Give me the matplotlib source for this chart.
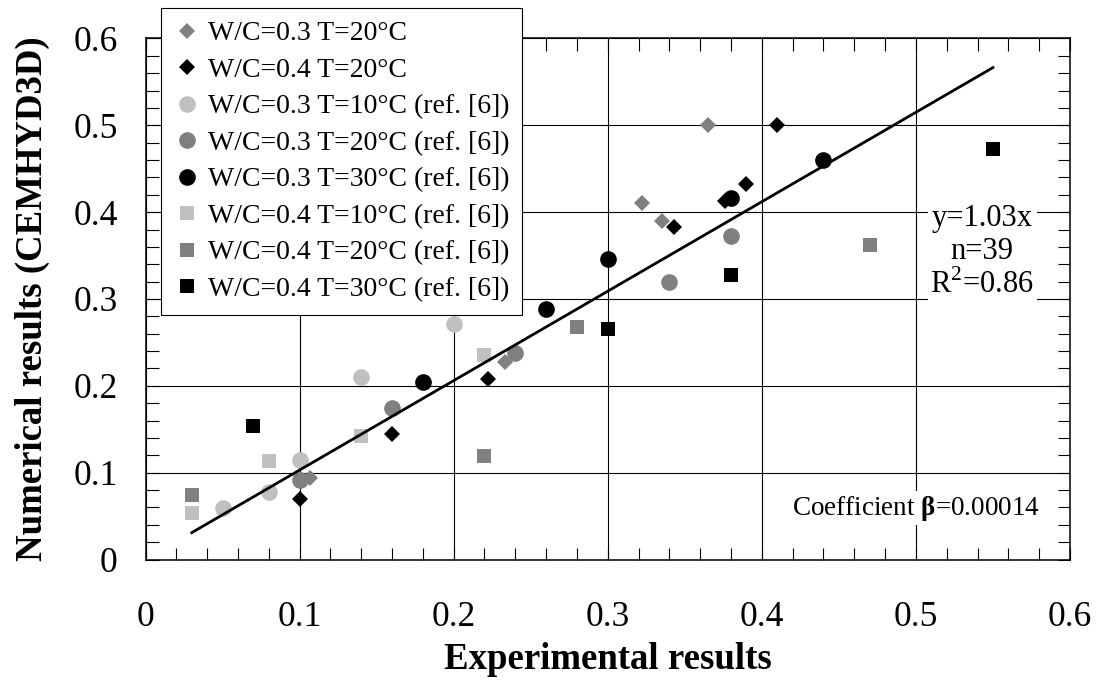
import matplotlib
matplotlib.use('Agg')
import matplotlib.pyplot as plt
import numpy as np
from matplotlib.ticker import MultipleLocator

plt.rcParams['font.family'] = ['Liberation Serif', 'DejaVu Serif']
plt.rcParams['mathtext.fontset'] = 'custom'
plt.rcParams['mathtext.rm'] = 'Liberation Serif'
plt.rcParams['mathtext.bf'] = 'Liberation Serif:bold'

# datos (experimental, numerico)
wc03_t20_x = [0.107, 0.233, 0.322, 0.335, 0.365]
wc03_t20_y = [0.094, 0.227, 0.410, 0.390, 0.500]
wc04_t20_x = [0.100, 0.160, 0.222, 0.343, 0.376, 0.390, 0.410]
wc04_t20_y = [0.070, 0.144, 0.208, 0.383, 0.413, 0.433, 0.500]
ref_03_10_x = [0.05, 0.08, 0.10, 0.14, 0.20]
ref_03_10_y = [0.059, 0.078, 0.115, 0.210, 0.271]
ref_03_20_x = [0.10, 0.16, 0.24, 0.34, 0.38]
ref_03_20_y = [0.091, 0.174, 0.238, 0.320, 0.372]
ref_03_30_x = [0.18, 0.26, 0.30, 0.38, 0.44]
ref_03_30_y = [0.204, 0.289, 0.346, 0.416, 0.460]
ref_04_10_x = [0.03, 0.08, 0.14, 0.22]
ref_04_10_y = [0.054, 0.113, 0.142, 0.235]
ref_04_20_x = [0.03, 0.22, 0.28, 0.47]
ref_04_20_y = [0.074, 0.119, 0.268, 0.362]
ref_04_30_x = [0.07, 0.30, 0.38, 0.55]
ref_04_30_y = [0.154, 0.265, 0.328, 0.473]

pendiente = 1.03
fit_x = np.array([0.03, 0.55])

ticks = [0, 0.1, 0.2, 0.3, 0.4, 0.5, 0.6]
tick_labels = ['0', '0.1', '0.2', '0.3', '0.4', '0.5', '0.6']

series = [
    (wc03_t20_x, wc03_t20_y, 'D', '#808080', 8.2, 'W/C=0.3 T=20°C'),
    (wc04_t20_x, wc04_t20_y, 'D', 'black', 8.2, 'W/C=0.4 T=20°C'),
    (ref_03_10_x, ref_03_10_y, 'o', '#c0c0c0', 12, 'W/C=0.3 T=10°C (ref. [6])'),
    (ref_03_20_x, ref_03_20_y, 'o', '#808080', 12, 'W/C=0.3 T=20°C (ref. [6])'),
    (ref_03_30_x, ref_03_30_y, 'o', 'black', 12, 'W/C=0.3 T=30°C (ref. [6])'),
    (ref_04_10_x, ref_04_10_y, 's', '#c0c0c0', 10.5, 'W/C=0.4 T=10°C (ref. [6])'),
    (ref_04_20_x, ref_04_20_y, 's', '#808080', 10.5, 'W/C=0.4 T=20°C (ref. [6])'),
    (ref_04_30_x, ref_04_30_y, 's', 'black', 10.5, 'W/C=0.4 T=30°C (ref. [6])'),
]

fig = plt.figure(figsize=(10.99, 6.8), dpi=100)
ax = fig.add_axes([0.1324, 0.1772, 0.8412, 0.7662])

for xs, ys, m, c, ms, lab in series:
    ax.plot(xs, ys, linestyle='none', marker=m, color=c, markersize=ms,
            markeredgewidth=0, label=lab, zorder=3)

ax.plot(fit_x, pendiente * fit_x, color='black', lw=2, zorder=4)

ax.set_xlim(0, 0.6)
ax.set_ylim(0, 0.6)
ax.set_xticks(ticks, tick_labels)
ax.set_yticks(ticks, tick_labels)
ax.xaxis.set_minor_locator(MultipleLocator(0.02))
ax.yaxis.set_minor_locator(MultipleLocator(0.02))
ax.grid(True, which='major', color='black', lw=0.8, zorder=1)
ax.set_axisbelow(True)
ax.tick_params(which='both', direction='in', top=True, right=True, width=0.8)
ax.tick_params(which='major', length=9, labelsize=25.5)
ax.tick_params(which='minor', length=9)
ax.tick_params(axis='x', which='major', pad=30)
ax.tick_params(axis='y', which='major', pad=20)
for s in ax.spines.values():
    s.set_linewidth(1.1)

ax.set_xlabel('Experimental results', fontsize=26.5, fontweight='bold')
ax.set_ylabel('Numerical results (CEMHYD3D)', fontsize=26.5, fontweight='bold')
ax.xaxis.set_label_coords(0.5, -0.158)
ax.yaxis.set_label_coords(-0.1033, 0.5)

ax.text(0.543, 0.354, 'y=1.03x\nn=39\nR$^2$=0.86', fontsize=22, ha='center', va='center',
        linespacing=1.15, bbox=dict(facecolor='white', edgecolor='none', pad=2), zorder=2)
ax.text(0.5, 0.059, r'Coefficient $\mathbf{\beta}$=0.00014', fontsize=19.5, ha='center',
        va='center', bbox=dict(facecolor='white', edgecolor='none', pad=2), zorder=2)

leg = fig.legend(loc='upper left', bbox_to_anchor=(160.7 / 1099, 1 - 8.3 / 680),
                 fontsize=20, frameon=True, fancybox=False, framealpha=1,
                 edgecolor='black', handlelength=1.0, handletextpad=0.25,
                 borderpad=0.45, labelspacing=0.4, borderaxespad=0)
leg.get_frame().set_linewidth(0.8)

fig.savefig('out.png', dpi=100)
